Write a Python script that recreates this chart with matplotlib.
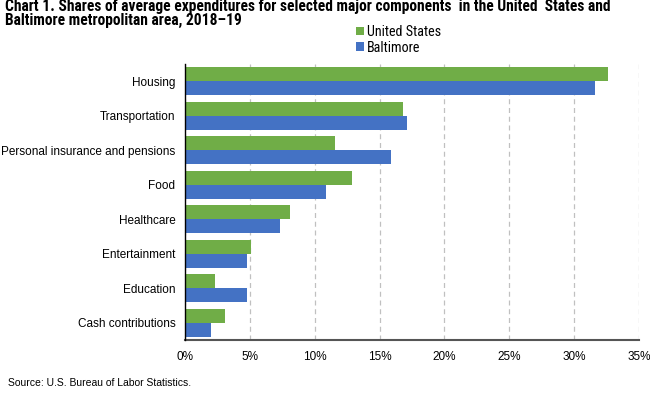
import matplotlib
matplotlib.use("Agg")
import matplotlib.pyplot as plt
import numpy as np

categories = ["Housing", "Transportation", "Personal insurance and pensions", "Food",
              "Healthcare", "Entertainment", "Education", "Cash contributions"]
us = [32.6, 16.8, 11.6, 12.9, 8.1, 5.1, 2.3, 3.1]
baltimore = [31.6, 17.1, 15.9, 10.9, 7.3, 4.8, 4.8, 2.0]
xticks = [0, 5, 10, 15, 20, 25, 30, 35]

green = "#70AD47"
blue = "#4472C4"
narrow = "Roboto Condensed"

fig = plt.figure(figsize=(6.5, 3.95), dpi=100)
ax = fig.add_axes([185/650, 1-340/395, (639-185)/650, (340-64)/395])

y = np.arange(len(categories))
h = 0.4
ax.barh(y - h/2, us, height=h, color=green, label="United States", zorder=3)
ax.barh(y + h/2, baltimore, height=h, color=blue, label="Baltimore", zorder=3)
ax.set_ylim(len(categories) - 0.5, -0.5)
ax.set_xlim(0, 35)
ax.set_xticks(xticks)
ax.set_xticklabels([f"{v}%" for v in xticks], fontsize=8.5, family="Liberation Sans")
ax.set_yticks(y)
ax.set_yticklabels(categories, fontsize=8.5, family="Liberation Sans")
ax.tick_params(axis="y", length=0, pad=7)
ax.tick_params(axis="x", length=0, pad=8)
ax.xaxis.grid(True, linestyle=(0, (4, 3)), color="#c0c0c0", linewidth=0.9, zorder=0)
for s in ["top", "right"]:
    ax.spines[s].set_visible(False)
ax.spines["left"].set_color("black")
ax.spines["left"].set_linewidth(1.0)
ax.spines["bottom"].set_color("#555555")
ax.spines["bottom"].set_linewidth(1.5)
ax.spines["left"].set_zorder(4)

fig.text(5/650, 1-11/395, "Chart 1. Shares of average expenditures for selected major components  in the United  States and",
         ha="left", va="baseline", fontsize=11.2, fontweight="bold", family=narrow)
fig.text(5/650, 1-24.5/395, "Baltimore metropolitan area, 2018\u201319",
         ha="left", va="baseline", fontsize=11.2, fontweight="bold", family=narrow)

leg = fig.legend(handles=ax.get_legend_handles_labels()[0], labels=["United States", "Baltimore"],
                 loc="upper left", bbox_to_anchor=(349/650, 1-18/395), frameon=False,
                 prop={"family": narrow, "size": 10.2}, handlelength=0.55, handleheight=0.55,
                 handletextpad=0.2, labelspacing=0.1, borderpad=0)

fig.text(8/650, 1-388/395, "Source: U.S. Bureau of Labor Statistics.", fontsize=7.5,
         family="Liberation Sans", ha="left", va="bottom")

fig.savefig("out.png", dpi=100)
